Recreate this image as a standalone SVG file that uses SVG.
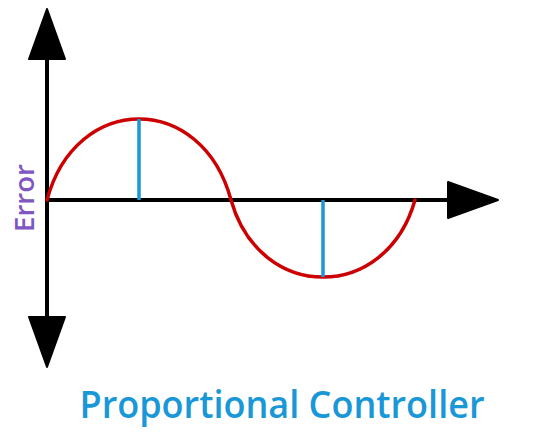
<svg xmlns="http://www.w3.org/2000/svg" width="550" height="434" viewBox="0 0 550 434">
<style>
.axis{stroke:#000;stroke-width:4;fill:none}
.head{fill:#000;stroke:#000;stroke-width:2;stroke-linejoin:round}
.wave{stroke:#cc0000;stroke-width:3.5;fill:none;stroke-linejoin:round;stroke-linecap:round}
.bar{stroke:#1a97d6;stroke-width:3.5}
</style>
<rect width="550" height="434" fill="#fff"/>
<g id="axes">
<line class="axis" x1="47" y1="50" x2="47" y2="325"/>
<line class="axis" x1="47" y1="200" x2="455" y2="200"/>
<polygon class="head" points="47,9 29,59 65,59"/>
<polygon class="head" points="47,367 29,317 65,317"/>
<polygon class="head" points="498,200 448,182 448,218"/>
</g>
<g id="wave">
<path class="wave" d="M47,200 C76,92 202,92 231,200 C260,302.7 386,302.7 415,200"/>
</g>
<g id="bars">
<line class="bar" x1="139" y1="119" x2="139" y2="200"/>
<line class="bar" x1="323" y1="200" x2="323" y2="277"/>
</g>
<g id="labels">
<text transform="translate(34,198) rotate(-90)" text-anchor="middle" font-family="Open Sans, sans-serif" font-weight="600" font-size="27" fill="#7e57c2" textLength="68" lengthAdjust="spacingAndGlyphs">Error</text>
<text x="282" y="418" text-anchor="middle" font-family="Open Sans, sans-serif" font-weight="600" font-size="38" fill="#1a97d6" textLength="405" lengthAdjust="spacingAndGlyphs">Proportional Controller</text>
</g>
</svg>
